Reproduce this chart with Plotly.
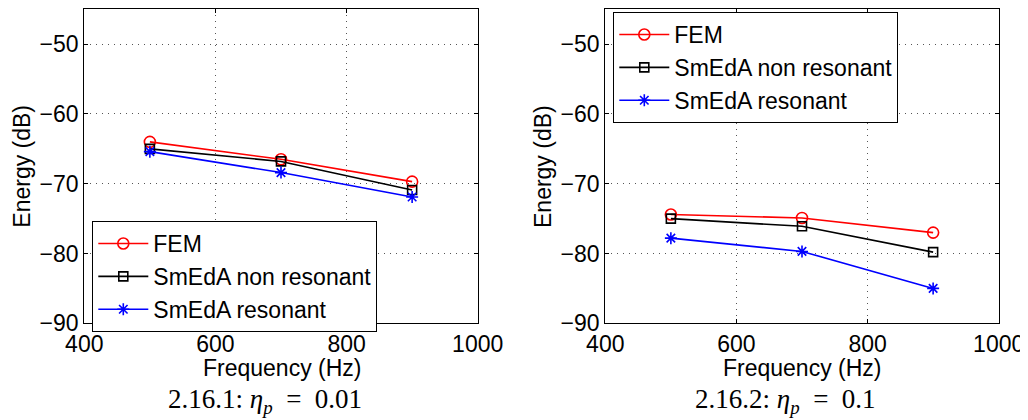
import plotly.graph_objects as go

freq = [500, 700, 900]

fem_a = [-64.0, -66.5, -69.7]
nonres_a = [-65.0, -66.8, -70.9]
res_a = [-65.4, -68.4, -71.9]

fem_b = [-74.4, -74.9, -77.0]
nonres_b = [-75.0, -76.1, -79.8]
res_b = [-77.8, -79.7, -85.0]

names = ["FEM", "SmEdA non resonant", "SmEdA resonant"]
colors = ["#ff0000", "#000000", "#0000ff"]
symbols = ["circle-open", "square-open", "asterisk-open"]
msizes = [11, 9, 10]

x_ticks = [400, 600, 800, 1000]
y_ticks = [-90, -80, -70, -60, -50]

captions = ["2.16.1: <i>η</i><sub><i>p</i></sub>\u2002=\u20020.01",
            "2.16.2: <i>η</i><sub><i>p</i></sub>\u2002=\u20020.1"]

FONT = "Liberation Sans, Arial, Helvetica, sans-serif"
SERIF = "Liberation Serif, Times New Roman, serif"

# page body adds an 8px margin; figure is sized so it fills the window
W, H, OFF = 1020, 412, 8


def px(x):
    return (x - OFF) / W


def py(y):
    return 1 - (y - OFF) / H


fig = go.Figure()

panels = [
    (("x", "y"), [fem_a, nonres_a, res_a], "legend"),
    (("x2", "y2"), [fem_b, nonres_b, res_b], "legend2"),
]
for (xa, ya), series, leg in panels:
    for i, vals in enumerate(series):
        fig.add_trace(go.Scatter(
            x=freq, y=vals, name=names[i], xaxis=xa, yaxis=ya,
            mode="lines+markers", legend=leg,
            line=dict(color=colors[i], width=1.6),
            marker=dict(symbol=symbols[i], size=msizes[i], color=colors[i],
                        line=dict(color=colors[i], width=1.6)),
        ))

axis_common = dict(
    showline=True, linecolor="black", linewidth=1.3, mirror="allticks",
    ticks="inside", ticklen=4, tickcolor="black",
    showgrid=True, gridcolor="#555555", griddash="1px,5px", gridwidth=1,
    zeroline=False, automargin=False,
    tickfont=dict(family=FONT, size=23, color="black"),
)

ydom = [py(323.3), py(9.3)]

fig.update_layout(
    template="none",
    width=W, height=H,
    margin=dict(l=0, r=0, t=0, b=0),
    paper_bgcolor="white", plot_bgcolor="white",
    font=dict(family=FONT, color="black"),
    xaxis=dict(domain=[px(84.3), px(477.7)], range=[400, 1000], tickvals=x_ticks, anchor="y", **axis_common),
    yaxis=dict(domain=ydom, range=[-90, -45], tickvals=y_ticks, anchor="x", **axis_common),
    xaxis2=dict(domain=[px(605.3), px(998.7)], range=[400, 1000], tickvals=x_ticks, anchor="y2", **axis_common),
    yaxis2=dict(domain=ydom, range=[-90, -45], tickvals=y_ticks, anchor="x2", **axis_common),
    legend=dict(x=px(92.3), y=py(221), xanchor="left", yanchor="top",
                bgcolor="white", bordercolor="black", borderwidth=1,
                font=dict(family=FONT, size=23, color="black"),
                tracegroupgap=0, itemwidth=50),
    legend2=dict(x=px(613.3), y=py(12), xanchor="left", yanchor="top",
                 bgcolor="white", bordercolor="black", borderwidth=1,
                 font=dict(family=FONT, size=23, color="black"),
                 tracegroupgap=0, itemwidth=50),
    showlegend=True,
)

ann = []
for xc, xl in [(281.7, 22), (802, 542.3)]:
    ann.append(dict(text="Frequency (Hz)", x=px(xc), y=py(368), xref="paper", yref="paper",
                    showarrow=False, xanchor="center", yanchor="middle",
                    font=dict(family=FONT, size=23, color="black")))
    ann.append(dict(text="Energy (dB)", x=px(xl), y=py(166.7), xref="paper", yref="paper",
                    showarrow=False, xanchor="center", yanchor="middle", textangle=-90,
                    font=dict(family=FONT, size=23, color="black")))
for xc, cap in zip([265.3, 785.8], captions):
    ann.append(dict(text=cap, x=px(xc), y=py(401), xref="paper", yref="paper",
                    showarrow=False, xanchor="center", yanchor="middle",
                    font=dict(family=SERIF, size=27, color="black")))
fig.update_layout(annotations=ann)

fig.write_html("out.html")
